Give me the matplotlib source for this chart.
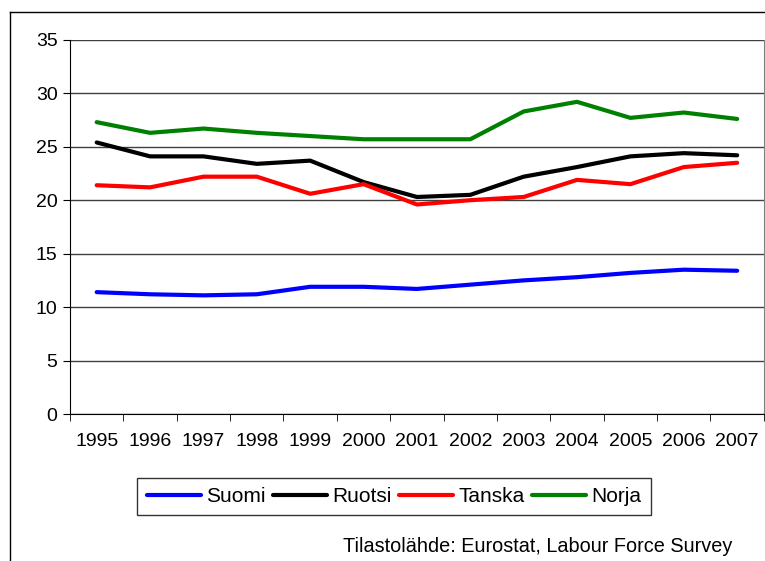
import matplotlib
matplotlib.use("Agg")
from matplotlib import pyplot as plt
from matplotlib.lines import Line2D

# data
years = ["1995", "1996", "1997", "1998", "1999", "2000", "2001",
         "2002", "2003", "2004", "2005", "2006", "2007"]
suomi = [11.4, 11.2, 11.1, 11.2, 11.9, 11.9, 11.7, 12.1, 12.5, 12.8, 13.2, 13.5, 13.4]
ruotsi = [25.4, 24.1, 24.1, 23.4, 23.7, 21.7, 20.3, 20.5, 22.2, 23.1, 24.1, 24.4, 24.2]
tanska = [21.4, 21.2, 22.2, 22.2, 20.6, 21.5, 19.6, 20.0, 20.3, 21.9, 21.5, 23.1, 23.5]
norja = [27.3, 26.3, 26.7, 26.3, 26.0, 25.7, 25.7, 25.7, 28.3, 29.2, 27.7, 28.2, 27.6]

series = [("Suomi", suomi, "#0000ff"),
          ("Ruotsi", ruotsi, "#000000"),
          ("Tanska", tanska, "#ff0000"),
          ("Norja", norja, "#008000")]

plt.rcParams["font.family"] = ["Liberation Sans", "DejaVu Sans"]

fig = plt.figure(figsize=(7.65, 5.61), dpi=100)
ax = fig.add_axes([0.0915, 0.262, 0.907, 0.667])

x = list(range(len(years)))
for name, vals, col in series:
    ax.plot(x, vals, color=col, lw=3, label=name, solid_capstyle="round")

ax.set_xlim(-0.5, len(years) - 0.5)
ax.set_ylim(0, 35)
ax.set_yticks(range(0, 36, 5))
ax.set_xticks(x)
ax.set_xticklabels(years)
ax.set_xticks([i - 0.5 for i in range(len(years) + 1)], minor=True)
ax.tick_params(axis="x", which="major", length=0, pad=14, labelsize=14)
ax.tick_params(axis="x", which="minor", length=5, direction="out")
ax.tick_params(axis="y", length=5, direction="out", labelsize=14, pad=4)

ax.yaxis.grid(True, color="#404040", lw=1)
ax.set_axisbelow(True)
ax.spines["top"].set_visible(False)
ax.spines["right"].set_color("#808080")
ax.spines["left"].set_color("black")
ax.spines["bottom"].set_color("black")

leg = fig.legend(loc="center", bbox_to_anchor=(0.515, 0.115), ncol=4,
                 frameon=True, fancybox=False, edgecolor="black",
                 fontsize=15, handlelength=2.6, handletextpad=0.25,
                 columnspacing=0.35, borderpad=0.45, borderaxespad=0)
leg.get_frame().set_linewidth(1)

fig.text(0.957, 0.025, "Tilastolähde: Eurostat, Labour Force Survey",
         ha="right", va="center", fontsize=14.3)

# outer frame
fig.add_artist(Line2D([0.0131, 0.0131], [0, 0.9786], color="black", lw=1,
                      transform=fig.transFigure))
fig.add_artist(Line2D([0.0131, 1], [0.9786, 0.9786], color="black", lw=1,
                      transform=fig.transFigure))

fig.savefig("out.png", dpi=100)
